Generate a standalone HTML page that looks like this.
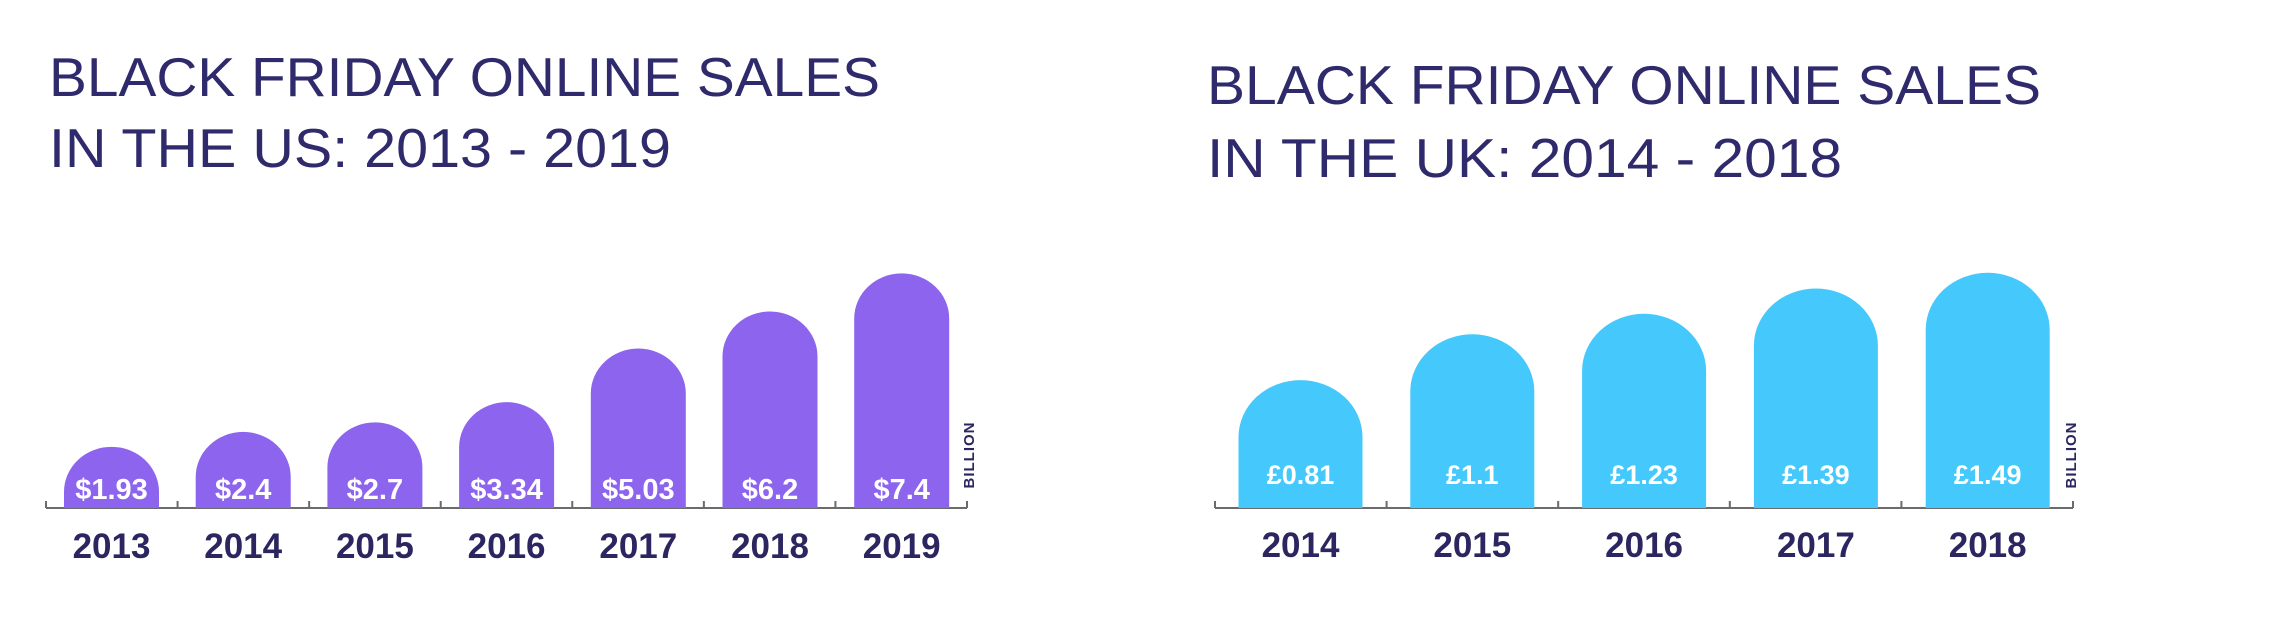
<!DOCTYPE html>
<html><head><meta charset="utf-8"><style>
html,body{margin:0;padding:0;background:#fff;width:2272px;height:622px;overflow:hidden}
svg{display:block}
text{font-family:"Liberation Sans",sans-serif}
</style></head><body>
<svg id="chart" width="2272" height="622" viewBox="0 0 2272 622" xmlns="http://www.w3.org/2000/svg">
<text x="49" y="96" font-size="55" fill="#2e2a6b" textLength="831" lengthAdjust="spacingAndGlyphs">BLACK FRIDAY ONLINE SALES</text>
<text x="49" y="167" font-size="55" fill="#2e2a6b" textLength="622" lengthAdjust="spacingAndGlyphs">IN THE US: 2013 - 2019</text>
<text x="1207" y="104" font-size="55" fill="#2e2a6b" textLength="834" lengthAdjust="spacingAndGlyphs">BLACK FRIDAY ONLINE SALES</text>
<text x="1207" y="177" font-size="55" fill="#2e2a6b" textLength="635" lengthAdjust="spacingAndGlyphs">IN THE UK: 2014 - 2018</text>
<g id="us"></g>
<g id="uk"></g>
</svg>
<script>
const usYears = ["2013","2014","2015","2016","2017","2018","2019"];
const usValues = [1.93, 2.4, 2.7, 3.34, 5.03, 6.2, 7.4];
const usLabels = ["$1.93","$2.4","$2.7","$3.34","$5.03","$6.2","$7.4"];
const ukYears = ["2014","2015","2016","2017","2018"];
const ukValues = [0.81, 1.1, 1.23, 1.39, 1.49];
const ukLabels = ["£0.81","£1.1","£1.23","£1.39","£1.49"];

const NS = "http://www.w3.org/2000/svg";
function mk(tag, attrs, parent){
  const e = document.createElementNS(NS, tag);
  for (const k in attrs) e.setAttribute(k, attrs[k]);
  parent.appendChild(e); return e;
}
function draw(g, years, values, labels, cfg, prefix){
  const y = v => cfg.base - v * cfg.scale;
  const x = i => cfg.x0 + i * cfg.step;
  const axis = mk("line", {x1:cfg.ax0, x2:cfg.ax1, y1:cfg.base, y2:cfg.base, stroke:"#6b6b6b", "stroke-width":2}, g);
  
  
  for (let i = 0; i <= years.length; i++) {
    const tx = cfg.ax0 + i * (cfg.ax1 - cfg.ax0) / years.length;
    const t = mk("line", {x1:tx, x2:tx, y1:cfg.base-7, y2:cfg.base, stroke:"#6b6b6b", "stroke-width":2}, g);
    
    
  }
  values.forEach((v, i) => {
    const l = x(i), w = cfg.w, r = w/2, ry = Math.min(cfg.ry, Math.max(0, cfg.base - y(v)));
    const top = y(v);
    const d = `M${l},${cfg.base} L${l},${top+ry} A${r},${ry} 0 0 1 ${l+w},${top+ry} L${l+w},${cfg.base} Z`;
    const b = mk("path", {d:d, fill:cfg.color}, g);
    
    
    const vt = mk("text", {x:l+w/2, y:cfg.valY, "font-size":cfg.valSize, "font-weight":"bold", fill:"#fff", "text-anchor":"middle"}, g);
    vt.textContent = labels[i];
    
    
    const yt = mk("text", {x:l+w/2, y:cfg.yearY, "font-size":35, "font-weight":"bold", fill:"#2b2660", "text-anchor":"middle"}, g);
    yt.textContent = years[i];
    
    
  });
  const bl = mk("text", {x:0, y:0, "font-size":15, "font-weight":"bold", fill:"#2b2660", "text-anchor":"middle", transform:`translate(${cfg.billX},${cfg.billY}) rotate(-90)`, "letter-spacing":"1"}, g);
  bl.textContent = "BILLION";
  
  
}
draw(document.getElementById("us"), usYears, usValues, usLabels,
  {base:508, scale:31.7, x0:64, step:131.7, w:95, ry:45, ax0:46, ax1:967, color:"#8c64ee", valY:499, valSize:29, yearY:558, billX:974, billY:455}, "us");
draw(document.getElementById("uk"), ukYears, ukValues, ukLabels,
  {base:508, scale:157.9, x0:1238.5, step:171.8, w:124, ry:57, ax0:1215, ax1:2073, color:"#45c8fb", valY:484, valSize:27, yearY:557, billX:2076, billY:455}, "uk");
</script>
</body></html>
